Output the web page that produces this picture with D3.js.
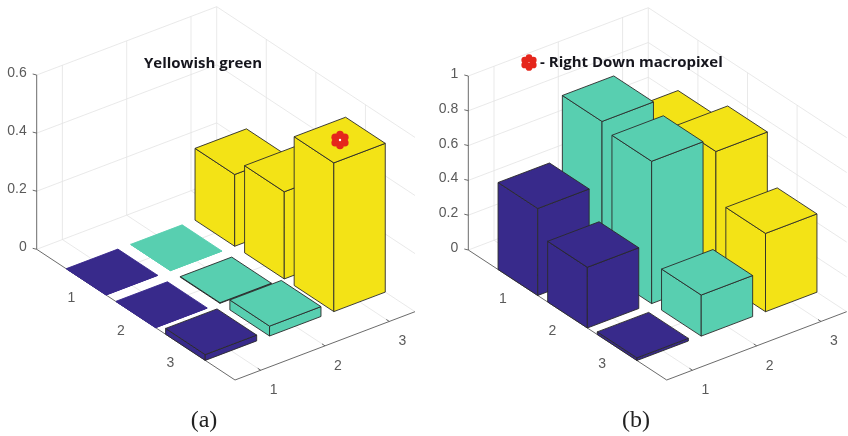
<!DOCTYPE html>
<html><head><meta charset="utf-8">
<script src="https://cdnjs.cloudflare.com/ajax/libs/d3/7.8.5/d3.min.js"></script>
<style>html,body{margin:0;padding:0;background:#fff}svg{display:block}</style>
</head><body><svg id="c" width="848" height="436"></svg>
<script>
const columns = [1, 2, 3];
const rows = [1, 2, 3];
const seriesColors = ["#38298b", "#58cfb0", "#f3e316"];
const heightsA = [[0.001, 0.001, 0.02], [0.0005, 0.002, 0.034], [0.247, 0.30, 0.512]];
const heightsB = [[0.5, 0.349, 0.015], [0.86, 0.818, 0.236], [0.636, 0.734, 0.45]];
const zTicksA = [0, 0.2, 0.4, 0.6];
const zTicksB = [0, 0.2, 0.4, 0.6, 0.8, 1];
const captionA = "(a)", captionB = "(b)";
const titleA = "Yellowish green", titleB = "- Right Down macropixel";

const svg = d3.select("#c");
const defs = svg.append("defs");
defs.append("filter").attr("id", "soft").append("feGaussianBlur").attr("stdDeviation", 0.45);
const root = svg.append("g").attr("filter", "url(#soft)");

const fx = d3.scaleLinear().domain([0.6, 3.4]).range([0, 1]);
const fy = d3.scaleLinear().domain([0, 4]).range([0, 1]);
const halfWidth = 0.4;

function marker(g, cx, cy, r, hole) {
  const m = g.append("g").attr("transform", `translate(${cx},${cy})`);
  d3.range(6).forEach(i => {
    const a = i * Math.PI / 3 + Math.PI / 2;
    m.append("circle").attr("cx", r * 0.62 * Math.cos(a)).attr("cy", r * 0.62 * Math.sin(a))
      .attr("r", r * 0.42).attr("fill", "#e5271c");
  });
  m.append("circle").attr("r", r * 0.7).attr("fill", "#e5271c");
  m.append("circle").attr("r", hole).attr("fill", "#fff");
}

function panel(cfg) {
  const g = root.append("g");
  const fz = d3.scaleLinear().domain([0, cfg.zTicks[cfg.zTicks.length - 1]]).range([0, cfg.zPx]);
  const P = (x, y, z) => [
    cfg.L[0] + fy(y) * (cfg.F[0] - cfg.L[0]) + fx(x) * (cfg.R[0] - cfg.F[0]),
    cfg.L[1] + fy(y) * (cfg.F[1] - cfg.L[1]) + fx(x) * (cfg.R[1] - cfg.F[1]) - fz(z)
  ];
  const path = d3.line();
  const [x0, x1] = fx.domain(), [y0, y1] = fy.domain();
  const zMax = fz.domain()[1];
  const grid = g.append("g").attr("fill", "none").attr("stroke", "#e3e3e3").attr("stroke-width", 0.8);
  const seg = pts => grid.append("path").attr("d", path(pts));
  cfg.zTicks.forEach(z => seg([P(x0, y0, z), P(x1, y0, z), P(x1, y1, z)]));
  columns.forEach(x => {
    seg([P(x, y0, 0), P(x, y0, zMax)]);
    seg([P(x, y0, 0), P(x, y1, 0)]);
  });
  rows.forEach(y => {
    seg([P(x1, y, 0), P(x1, y, zMax)]);
    seg([P(x0, y, 0), P(x1, y, 0)]);
  });
  seg([P(x1, y0, 0), P(x1, y0, zMax)]);

  const axis = g.append("g").attr("fill", "none").attr("stroke", "#5a5a5a").attr("stroke-width", 0.9);
  axis.append("path").attr("d", path([P(x0, y0, zMax), P(x0, y0, 0), P(x0, y1, 0), P(x1, y1, 0)]));
  const label = (x, y, t, anchor) => g.append("text").attr("x", x).attr("y", y).attr("text-anchor", anchor)
      .attr("font-family", "Liberation Sans").attr("font-size", 14).attr("fill", "#5a5a5a").text(t);
  cfg.zTicks.forEach(z => {
    const p = P(x0, y0, z);
    axis.append("path").attr("d", path([[p[0] - 4, p[1] - 1], p]));
    label(p[0] - 10, p[1] + 2, d3.format("~g")(z), "end");
  });
  rows.forEach(y => {
    const p = P(x0, y, 0), q = P(x0 + 0.05, y, 0);
    axis.append("path").attr("d", path([p, q]));
    label(p[0] - 15, p[1] + 20, y, "middle");
  });
  columns.forEach(x => {
    const p = P(x, y1, 0), q = P(x, y1 - 0.06, 0);
    axis.append("path").attr("d", path([p, q]));
    label(p[0] + 13, p[1] + 24, x, "middle");
  });

  const bars = [];
  columns.forEach((x, i) => rows.forEach((y, j) => bars.push({x, y, h: cfg.heights[i][j], c: seriesColors[i]})));
  bars.sort((a, b) => (a.y - a.x) - (b.y - b.x));
  const edge = d3.line().curve(d3.curveLinearClosed);
  const bg = g.append("g").attr("stroke-width", 0.9).attr("stroke-linejoin", "round");
  bars.forEach(b => {
    const xa = b.x - halfWidth, xb = b.x + halfWidth, ya = b.y - halfWidth, yb = b.y + halfWidth;
    const faces = [
      [P(xa, ya, 0), P(xa, yb, 0), P(xa, yb, b.h), P(xa, ya, b.h)],
      [P(xa, yb, 0), P(xb, yb, 0), P(xb, yb, b.h), P(xa, yb, b.h)],
      [P(xa, ya, b.h), P(xa, yb, b.h), P(xb, yb, b.h), P(xb, ya, b.h)]
    ];
    faces.forEach(f => bg.append("path").attr("d", edge(f)).attr("fill", b.c)
      .attr("stroke", b.h < 0.0015 ? b.c : "#2a2a2a"));
  });
  g.append("text").attr("x", cfg.tx).attr("y", cfg.ty).attr("text-anchor", cfg.ta)
    .attr("font-family", "Open Sans").attr("font-weight", 700).attr("font-size", cfg.tf)
    .attr("fill", "#15151f").text(cfg.title);
  marker(g, cfg.mx, cfg.my, cfg.mr, cfg.mh);
  g.append("text").attr("x", cfg.cx).attr("y", 427).attr("text-anchor", "middle")
    .attr("font-family", "Liberation Serif").attr("font-size", 24).attr("fill", "#222").text(cfg.caption);
}

panel({L: [36.7, 249.3], F: [235, 380], R: [415, 311.7], zPx: 174.3, zTicks: zTicksA, heights: heightsA,
  title: titleA, tx: 203, ty: 68, ta: "middle", tf: 15, mx: 340, my: 140, mr: 9, mh: 1.2, cx: 204, caption: captionA});
panel({L: [468.3, 250], F: [666.7, 380], R: [846.7, 311.7], zPx: 174, zTicks: zTicksB, heights: heightsB,
  title: titleB, tx: 540, ty: 67, ta: "start", tf: 15, mx: 529, my: 62.5, mr: 8, mh: 0.5, cx: 636, caption: captionB});
</script></body></html>
